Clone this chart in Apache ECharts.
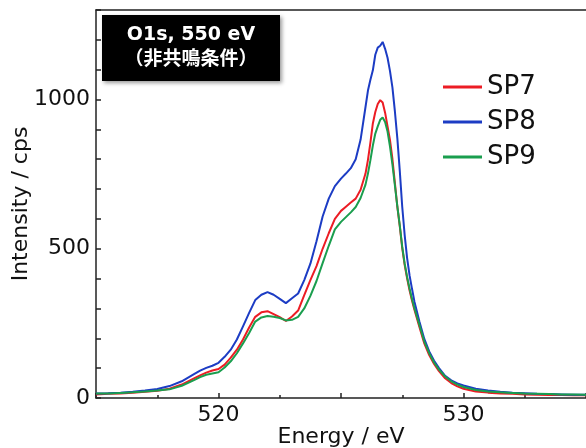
<!DOCTYPE html>
<html>
<head>
<meta charset="utf-8">
<script src="https://cdn.jsdelivr.net/npm/echarts@6/dist/echarts.min.js"></script>
<style>
  html, body { margin: 0; padding: 0; background: #fff; }
  #chart { width: 586px; height: 448px; }
</style>
</head>
<body>
<div id="chart"></div>
<script>
// 横軸 (eV)
const energy = [
  515, 515.5, 516, 516.5, 517, 517.5, 518, 518.5, 519, 519.25, 519.5, 519.75,
  520, 520.25, 520.5, 520.75, 521, 521.25, 521.5, 521.75, 522, 522.25, 522.5, 522.75,
  523, 523.25, 523.5, 523.75, 524, 524.25, 524.5, 524.75, 525, 525.2, 525.4, 525.6, 525.8,
  526, 526.1, 526.2, 526.3, 526.4, 526.5, 526.6, 526.7, 526.8, 526.9,
  527, 527.1, 527.2, 527.3, 527.4, 527.5, 527.6, 527.7, 527.8, 527.9,
  528, 528.2, 528.4, 528.6, 528.8, 529, 529.25, 529.5, 529.75,
  530, 530.5, 531, 531.5, 532, 532.5, 533, 533.5, 534, 534.5, 535
]
const sp7 = [
  12, 14, 15, 18, 21, 24, 31, 45, 66, 76, 85, 92,
  97, 112, 135, 162, 196, 236, 272, 287, 291, 281, 271, 258,
  273, 293, 345, 395, 442, 500, 552, 600, 627, 641, 655, 668, 698,
  752, 798, 856, 920, 958, 985, 998, 990, 956, 910,
  864, 800, 720, 640, 575, 502, 445, 400, 360, 326,
  295, 238, 183, 144, 114, 90, 66, 50, 39,
  31, 22, 18, 15, 14, 12, 11, 10, 10, 9, 9
]
const sp8 = [
  15, 16, 18, 21, 25, 30, 40, 56, 80, 92, 101, 108,
  118, 138, 162, 196, 240, 285, 328, 346, 355, 346, 332, 318,
  334, 350, 395, 450, 525, 608, 668, 710, 735, 752, 770, 800, 866,
  975, 1030, 1066, 1098, 1150, 1174, 1180, 1193, 1170, 1140,
  1095, 1040, 960, 870, 760, 640, 545, 468, 410, 365,
  322, 256, 198, 156, 125, 100, 74, 59, 49,
  42, 31, 25, 21, 18, 16, 14, 13, 12, 11, 11
]
const sp9 = [
  15, 15, 17, 19, 22, 25, 29, 41, 60, 70, 78, 82,
  86, 102, 123, 150, 183, 218, 256, 270, 275, 272, 268, 260,
  262, 272, 300, 342, 392, 452, 510, 565, 590, 606, 622, 640, 670,
  715, 752, 797, 846, 886, 910, 932, 940, 925, 893,
  842, 782, 712, 642, 578, 506, 450, 405, 366, 331,
  300, 245, 189, 150, 119, 95, 72, 56, 45,
  37, 27, 22, 19, 17, 15, 14, 13, 12, 12, 11
]
const seriesNames = ['SP7', 'SP8', 'SP9']
const seriesColors = ['#ec1c24', '#1c3cc4', '#1a9e4e']
const xLabels = [520, 530]
const yLabels = [0, 500, 1000]

const font = "'DejaVu Sans', 'Noto Sans CJK JP', sans-serif"

function pairs(vals) {
  return energy.map((e, i) => [e, vals[i]])
}

const chart = echarts.init(document.getElementById('chart'))

const option = {
  animation: false,
  textStyle: { fontFamily: font },
  grid: { left: 96, right: 0, top: 10, bottom: 50, containLabel: false, outerBoundsMode: 'none' },
  legend: {
    orient: 'vertical',
    left: 443,
    top: 74,
    padding: 0,
    itemWidth: 39,
    itemHeight: 3,
    itemGap: 9,
    icon: 'rect',
    data: seriesNames,
    textStyle: { fontSize: 26, color: '#111', fontFamily: font }
  },
  xAxis: [{
    type: 'value',
    min: 515,
    max: 535,
    interval: 5,
    name: 'Energy / eV',
    nameLocation: 'middle',
    nameGap: 28,
    nameMoveOverlap: false,
    nameTextStyle: { fontSize: 22, color: '#111', fontFamily: font },
    axisLine: { lineStyle: { color: '#222', width: 1.5 } },
    axisTick: { inside: true, length: 5, lineStyle: { color: '#222', width: 1.5 } },
    minorTick: { show: true, splitNumber: 2, length: 3, lineStyle: { color: '#222', width: 1.5 } },
    splitLine: { show: false },
    axisLabel: {
      fontSize: 22, color: '#111', margin: 6, fontFamily: font,
      formatter: v => xLabels.includes(v) ? String(v) : ''
    }
  }, {
    type: 'value',
    position: 'top',
    min: 515,
    max: 535,
    axisLine: { show: true, lineStyle: { color: '#222', width: 1.5 } },
    axisTick: { show: false },
    axisLabel: { show: false },
    splitLine: { show: false }
  }],
  yAxis: {
    type: 'value',
    min: 0,
    max: 1300,
    interval: 100,
    name: 'Intensity / cps',
    nameLocation: 'middle',
    nameGap: 64,
    nameMoveOverlap: false,
    nameTextStyle: { fontSize: 22, color: '#111', fontFamily: font },
    axisLine: { show: true, lineStyle: { color: '#222', width: 1.5 } },
    axisTick: { show: true, inside: true, length: 5, lineStyle: { color: '#222', width: 1.5 } },
    splitLine: { show: false },
    axisLabel: {
      fontSize: 22, color: '#111', margin: 6, fontFamily: font,
      formatter: v => yLabels.includes(v) ? String(v) : ''
    }
  },
  graphic: [{
    type: 'rect',
    left: 102,
    top: 15,
    shape: { width: 178, height: 66 },
    style: { fill: '#000', shadowBlur: 4, shadowOffsetX: 2, shadowOffsetY: 2, shadowColor: 'rgba(0,0,0,0.4)' }
  }, {
    type: 'text',
    x: 191,
    y: 48,
    style: {
      text: 'O1s, 550 eV\n（非共鳴条件）',
      fill: '#fff',
      font: 'bold 19px ' + font,
      align: 'center',
      verticalAlign: 'middle',
      lineHeight: 25
    }
  }],
  series: [sp7, sp8, sp9].map((vals, i) => ({
    name: seriesNames[i],
    type: 'line',
    data: pairs(vals),
    showSymbol: false,
    symbol: 'none',
    color: seriesColors[i],
    lineStyle: { width: 2, color: seriesColors[i] }
  }))
}

chart.setOption(option)
</script>
</body>
</html>
